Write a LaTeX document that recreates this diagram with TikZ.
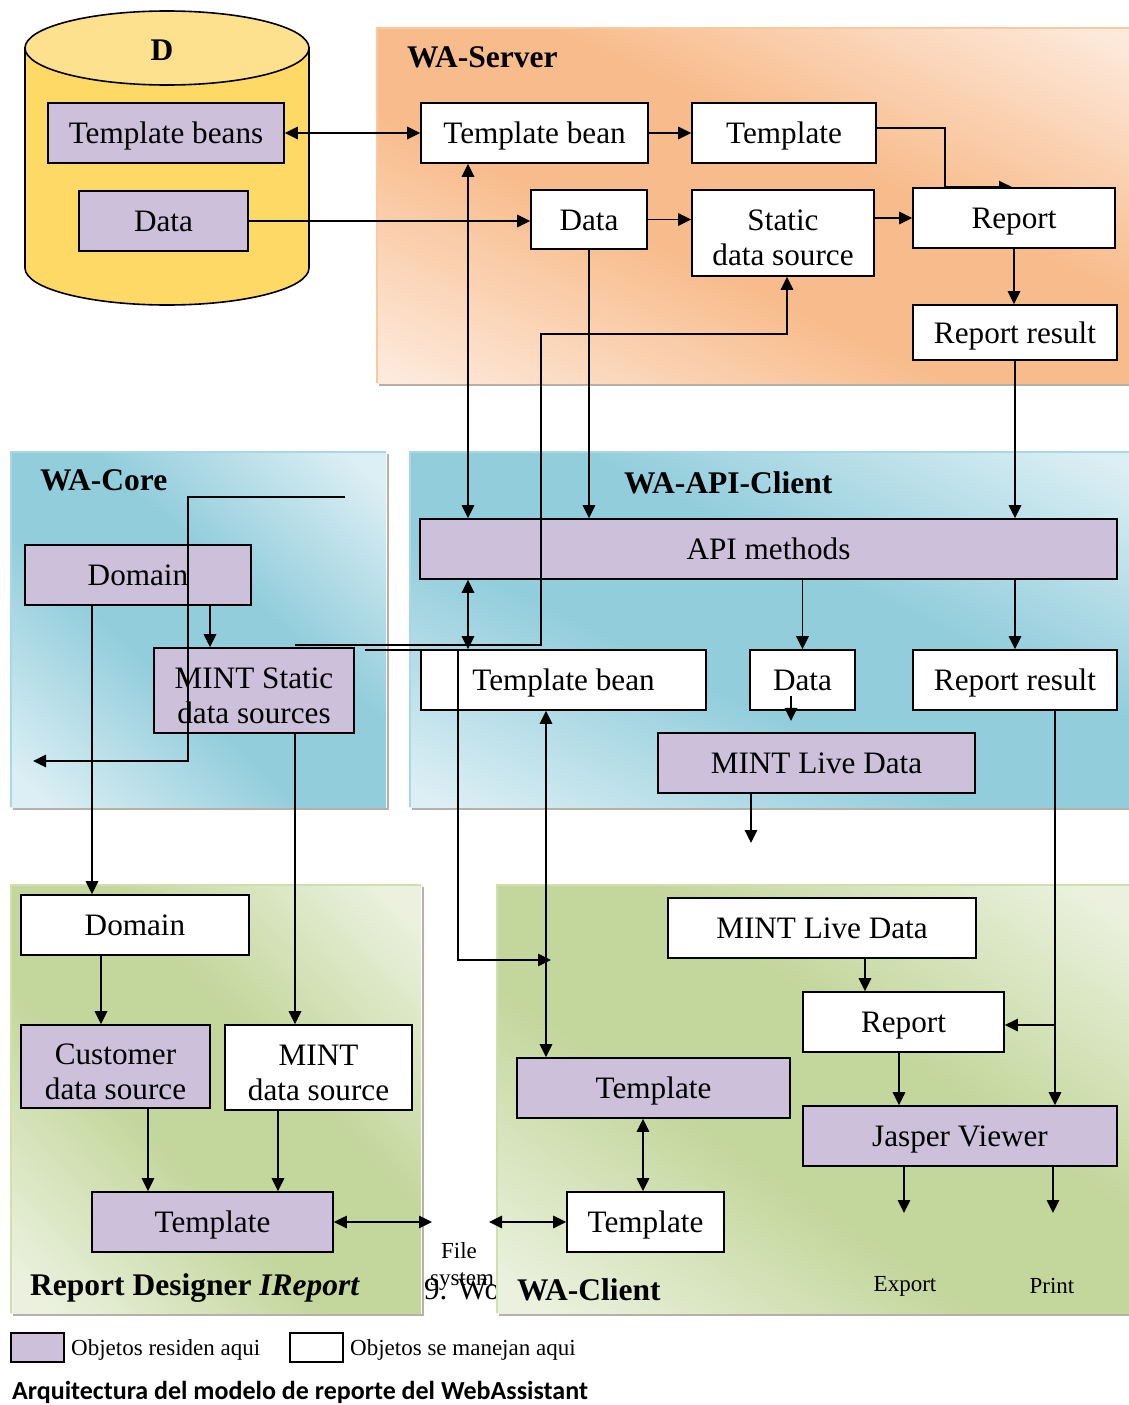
\documentclass[tikz,border=0pt]{standalone}
\usepackage{fontspec}
\setmainfont{Liberation Serif}
\newfontfamily\capfont{Carlito}
\usetikzlibrary{arrows.meta,calc}
\definecolor{lav}{HTML}{CCC0DA}
\definecolor{orD}{HTML}{F8BC8C}
\definecolor{orL}{HTML}{FDEADC}
\definecolor{orB}{HTML}{FBC9A0}
\definecolor{blD}{HTML}{92CDDC}
\definecolor{blL}{HTML}{DCEFF4}
\definecolor{blB}{HTML}{A9D8E4}
\definecolor{grD}{HTML}{C3D69B}
\definecolor{grL}{HTML}{EBF1DE}
\definecolor{grB}{HTML}{CFDFAE}
\definecolor{shd}{HTML}{B8B0A8}
\definecolor{cylB}{HTML}{FFD966}
\definecolor{cylT}{HTML}{FDE18E}
\pgfdeclareverticalshading{orsh}{100bp}{color(0bp)=(orL); color(18bp)=(orL); color(42bp)=(orD); color(58bp)=(orD); color(82bp)=(orL); color(100bp)=(orL)}
\pgfdeclareverticalshading{blsh}{100bp}{color(0bp)=(blL); color(18bp)=(blL); color(42bp)=(blD); color(58bp)=(blD); color(82bp)=(blL); color(100bp)=(blL)}
\pgfdeclareverticalshading{grsh}{100bp}{color(0bp)=(grL); color(18bp)=(grL); color(42bp)=(grD); color(58bp)=(grD); color(82bp)=(grL); color(100bp)=(grL)}
\pgfdeclarelayer{bg}
\pgfdeclarelayer{mid}
\pgfsetlayers{bg,mid,main}
\tikzset{
  box/.style={draw, line width=1.8pt, fill=white, inner sep=0pt, align=center,
    font=\fontsize{31.2}{35}\selectfont, text height=21pt, text depth=0pt},
  ml/.style={text height={}, text depth={}},
  res/.style={box, fill=lav},
  ttl/.style={anchor=west, inner sep=0pt, font=\fontsize{31.5}{35}\selectfont\bfseries},
  sml/.style={inner sep=0pt, font=\fontsize{23}{26}\selectfont},
  ln/.style={line width=1.6pt},
  arr/.style={ln, -{Triangle[length=13pt,width=12.5pt]}},
  biarr/.style={ln, {Triangle[length=13pt,width=12.5pt]}-{Triangle[length=13pt,width=12.5pt]}},
  regshade/.style args={#1/#2}{shading=#1, shading angle=#2},
}
\newcommand\topstrut{\rule{0pt}{31pt}}
\begin{document}
\begin{tikzpicture}[x=1pt,y=-1pt]
\useasboundingbox (0,0) rectangle (1129,1405);
\begin{pgfonlayer}{bg}
\fill[white] (0,0) rectangle (1129,1405);
% WA-Server
\shade[regshade=orsh/-25] (377,28) rectangle (1129,383);
\draw[orB, line width=1.5pt] (1135,28) -- (377,28) -- (377,383);
\draw[shd, line width=2pt] (379,385) -- (1135,385);
% WA-Core
\shade[regshade=blsh/-43] (11,452) rectangle (386,807);
\draw[blB, line width=1.5pt] (386,452) -- (11,452) -- (11,807);
\draw[shd, line width=2pt] (13,809) -- (388,809) -- (388,454);
% WA-API-Client
\shade[regshade=blsh/-26] (410,452) rectangle (1129,807);
\draw[blB, line width=1.5pt] (1135,452) -- (410,452) -- (410,807);
\draw[shd, line width=2pt] (412,809) -- (1135,809);
% Report Designer
\shade[regshade=grsh/-46] (11,885) rectangle (421,1313);
\draw[grB, line width=1.5pt] (421,885) -- (11,885) -- (11,1313);
\draw[shd, line width=2pt] (13,1315) -- (423,1315) -- (423,887);
% 9. Wo text under WA-Client
\node[anchor=base west, inner sep=0pt, font=\fontsize{31}{35}\selectfont] (wo) at (424,1299) {9. Wo};
% WA-Client
\shade[regshade=grsh/-34] (497,885) rectangle (1129,1313);
\draw[grB, line width=1.5pt] (1135,885) -- (497,885) -- (497,1313);
\draw[shd, line width=2pt] (499,1315) -- (1135,1315);
% cylinder D
\filldraw[fill=cylB, line width=1.6pt] (25,48) -- (25,268)
  arc[start angle=180, end angle=360, x radius=142pt, y radius=37pt] -- (309,48) -- cycle;
\filldraw[fill=cylT, line width=1.6pt] (167,48) ellipse [x radius=142pt, y radius=37pt];
\end{pgfonlayer}

% titles
\node[font=\fontsize{31.5}{35}\selectfont\bfseries, inner sep=0pt] (dl) at (162,50) {D};
\node[ttl] (tserver) at (407,57) {WA-Server};
\node[ttl] (tcore) at (40,480) {WA-Core};
\node[ttl] (tapi) at (624,483) {WA-API-Client};
\node[ttl] (trd) at (30,1288) {Report Designer \textit{IReport}};
\node[ttl] (tclient) at (517,1290) {WA-Client};

% D nodes
\node[res, minimum width=236, minimum height=60] (tbeans) at (166,133) {Template beans};
\node[res, minimum width=169, minimum height=60] (ddata) at (163.5,221) {Data};

% WA-Server nodes
\node[box, minimum width=227, minimum height=60] (stbean) at (534.5,133) {Template bean};
\node[box, minimum width=184, minimum height=60] (stemplate) at (784,133) {Template};
\node[box, minimum width=116, minimum height=59] (sdata) at (589,219.5) {Data};
\node[box, ml, minimum width=182, minimum height=86] (sstatic) at (783,233) {\topstrut Static\\data source};
\node[box, minimum width=202, minimum height=60] (sreport) at (1014,218) {Report};
\node[box, minimum width=204, minimum height=55] (sresult) at (1015,332.5) {Report result};

% WA-Core nodes
\node[res, minimum width=226, minimum height=60] (cdomain) at (138,575) {Domain};
\node[res, ml, minimum width=200, minimum height=85] (cmint) at (254,690.5) {\topstrut MINT Static\\data sources};

% WA-API-Client nodes
\node[res, minimum width=697, minimum height=60] (api) at (768.5,549) {API methods};
\node[box, minimum width=285, minimum height=60] (atbean) at (563.5,680) {Template bean};
\node[box, minimum width=105, minimum height=60] (adata) at (802.5,680) {Data};
\node[box, minimum width=204, minimum height=60] (aresult) at (1015,680) {Report result};
\node[res, minimum width=317, minimum height=60] (alive) at (816.5,763) {MINT Live Data};

% Report Designer nodes
\node[box, minimum width=228, minimum height=60] (rdomain) at (135,925) {Domain};
\node[res, ml, minimum width=189, minimum height=83] (rcust) at (115.5,1066.5) {\topstrut Customer\\data source};
\node[box, ml, minimum width=187, minimum height=85] (rmint) at (318.5,1067.5) {\topstrut MINT\\data source};
\node[res, minimum width=241, minimum height=60] (rtemplate) at (212.5,1222) {Template};

% WA-Client nodes
\node[box, minimum width=308, minimum height=60] (wlive) at (822,928) {MINT Live Data};
\node[box, minimum width=201, minimum height=60] (wreport) at (903.5,1022) {Report};
\node[res, minimum width=273, minimum height=60] (wtemplate) at (653.5,1088) {Template};
\node[res, minimum width=314, minimum height=60] (wjasper) at (960,1136) {Jasper Viewer};
\node[box, minimum width=157, minimum height=60] (wtemplate2) at (645.5,1222) {Template};

% small labels
\node[sml] (export) at (905,1286) {Export};
\node[sml] (print) at (1052,1286) {Print};
\node[sml] (file) at (459,1251) {File};
\node[sml] (system) at (462,1281) {system};

% legend and caption
\node[res, line width=1.5pt, minimum width=53, minimum height=29] (leg1) at (37.5,1347.5) {};
\node[sml, anchor=west] (leg1t) at (71,1350) {Objetos residen aqui};
\node[box, line width=1.5pt, minimum width=53, minimum height=29] (leg2) at (316.5,1347.5) {};
\node[sml, anchor=west] (leg2t) at (350,1350) {Objetos se manejan aqui};
\node[anchor=west, inner sep=0pt, font=\capfont\bfseries\fontsize{26}{30}\selectfont] (cap) at (12,1392) {Arquitectura del modelo de reporte del WebAssistant};

% helper coordinates
\coordinate (xa) at (468,0);
\coordinate (xc) at (546,0);
\coordinate (xd) at (1055,0);
\coordinate (k1) at (541,334);
\coordinate (k2) at (458,960);
\coordinate (clientend) at (551,960);
\coordinate (liveend) at (751,843);
\coordinate (loopa) at (345,497);
\coordinate (loopb) at (188,761);
\coordinate (loopend) at (33,761);
\coordinate (fsl) at (432,1222);
\coordinate (fsr) at (489,1222);
\coordinate (expend) at (904,1213);
\coordinate (prtend) at (1053,1213);

% connectors (server)
\begin{pgfonlayer}{mid}
\draw[arr] ([yshift=5pt]stemplate.east) -| ([xshift=-69pt]sreport.north) -- ([xshift=-2pt]sreport.north);
\end{pgfonlayer}
\draw[biarr] (tbeans.east) -- (stbean.west);
\draw[arr] (ddata.east) -- (ddata.east -| sdata.west);
\draw[arr] (stbean.east) -- (stemplate.west);
\draw[arr] (sdata.east) -- (sdata.east -| sstatic.west);
\draw[arr] (sreport.west -| sstatic.east) -- (sreport.west);
\draw[arr] (sreport.south) -- (sreport.south |- sresult.north);
\draw[arr] (sresult.south) -- (sresult.south |- api.north);
\draw[biarr] (stbean.south -| xa) -- (api.north -| xa);
\draw[arr] (sdata.south) -- (sdata.south |- api.north);
\draw[arr] ([xshift=41pt,yshift=2pt]cmint.north) -| (k1) -| ([xshift=4pt]sstatic.south);

% connectors (api)
\draw[biarr] (api.south -| xa) -- (atbean.north -| xa);
\draw[arr] (api.south -| adata.north) -- (adata.north);
\draw[arr] (api.south -| aresult.north) -- (aresult.north);
\draw[arr] ([xshift=-11.5pt,yshift=15pt]adata.south) -- ([xshift=-11.5pt,yshift=-10pt]adata.south);
\draw[arr] (alive.south -| liveend) -- (liveend);

% connectors (core)
\draw[arr] (loopa) -| (loopb) -- (loopend);
\draw[arr] ([xshift=72pt]cdomain.south) -- ([xshift=72pt]cdomain.south |- cmint.north);
\draw[arr] ([xshift=-46pt]cdomain.south) -- ([xshift=-46pt]cdomain.south |- rdomain.north);
\draw[arr] ([xshift=41pt]cmint.south) -- ([xshift=41pt]cmint.south |- rmint.north);
\draw[arr] ([xshift=10pt,yshift=-3pt]cmint.north east) -| (k2) -- (clientend);

% connectors (report designer)
\draw[arr] ([xshift=-34pt]rdomain.south) -- ([xshift=-34pt]rdomain.south |- rcust.north);
\draw[arr] ([xshift=32.5pt]rcust.south) -- ([xshift=32.5pt]rcust.south |- rtemplate.north);
\draw[arr] ([xshift=-40.5pt]rmint.south) -- ([xshift=-40.5pt]rmint.south |- rtemplate.north);
\draw[biarr] (rtemplate.east) -- (fsl);
\draw[biarr] (fsr) -- (wtemplate2.west);

% connectors (client)
\draw[biarr] ([xshift=-10.5pt]wtemplate.south) -- ([xshift=-10.5pt]wtemplate.south |- wtemplate2.north);
\draw[biarr] (atbean.south -| xc) -- (wtemplate.north -| xc);
\draw[arr] ([xshift=43pt]wlive.south) -- ([xshift=43pt]wlive.south |- wreport.north);
\draw[arr] ([xshift=-4.5pt]wreport.south) -- ([xshift=-4.5pt]wreport.south |- wjasper.north);
\draw[arr] (aresult.south -| xd) -- (wjasper.north -| xd);
\draw[arr] ([yshift=-3pt]wreport.east -| xd) -- ([yshift=-3pt]wreport.east);
\draw[arr] (wjasper.south -| expend) -- (expend);
\draw[arr] (wjasper.south -| prtend) -- (prtend);
\end{tikzpicture}
\end{document}
